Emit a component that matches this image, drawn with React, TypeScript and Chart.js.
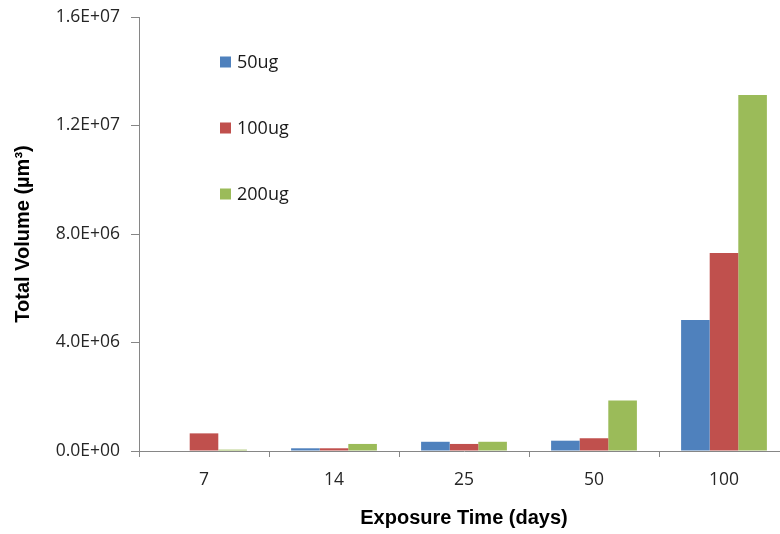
import React, { useEffect, useRef } from "react";
import { Chart, registerables } from "chart.js";

Chart.register(...registerables);

const categories = ["7", "14", "25", "50", "100"];
const seriesNames = ["50ug", "100ug", "200ug"];
const series50 = [0, 1.0e5, 3.4e5, 3.8e5, 4.83e6];
const series100 = [6.5e5, 1.0e5, 2.6e5, 4.7e5, 7.3e6];
const series200 = [5e4, 2.6e5, 3.4e5, 1.86e6, 1.312e7];
const colors = ["#4F81BD", "#C0504D", "#9BBB59"];
const yTicks = [0, 4e6, 8e6, 1.2e7, 1.6e7];

function fmtExp(v: number): string {
  if (v === 0) return "0.0E+00";
  const exp = Math.floor(Math.log10(Math.abs(v)));
  const mant = v / Math.pow(10, exp);
  const sign = exp >= 0 ? "+" : "-";
  const e = Math.abs(exp).toString().padStart(2, "0");
  return mant.toFixed(1) + "E" + sign + e;
}

const legendPlugin = {
  id: "customLegend",
  afterDraw(chart: any) {
    const { ctx, chartArea } = chart;
    ctx.save();
    const x0 = chartArea.left + 81;
    const y0 = chartArea.top + 45;
    chart.data.datasets.forEach((ds: any, i: number) => {
      const cy = y0 + i * 66;
      ctx.fillStyle = ds.backgroundColor;
      ctx.fillRect(x0, cy - 5.5, 11, 11);
      ctx.fillStyle = "#1a1a1a";
      ctx.font = "18px 'Open Sans'";
      ctx.textBaseline = "middle";
      ctx.textAlign = "left";
      ctx.fillText(ds.label, x0 + 17, cy + 1);
    });
    ctx.restore();
  },
};

export default function App() {
  const ref = useRef<HTMLCanvasElement>(null);
  useEffect(() => {
    if (!ref.current) return;
    const data = [series50, series100, series200];
    const chart = new Chart(ref.current, {
      type: "bar",
      data: {
        labels: categories,
        datasets: seriesNames.map((n, i) => ({
          label: n,
          data: data[i],
          backgroundColor: colors[i],
          borderWidth: 0,
          categoryPercentage: 0.66,
          barPercentage: 1.0,
        })),
      },
      options: {
        responsive: false,
        animation: false,
        devicePixelRatio: 1,
        layout: { padding: { top: 17, right: 3, left: 0, bottom: 0 } },
        plugins: { legend: { display: false }, tooltip: { enabled: false } },
        scales: {
          x: {
            afterFit: (s: any) => {
              s.height = 83;
              s.paddingLeft = 0;
              s.paddingRight = 0;
            },
            grid: {
              drawOnChartArea: false,
              offset: true,
              tickLength: 6,
              color: "#868686",
            },
            border: { color: "#868686", width: 1 },
            ticks: {
              color: "#262626",
              font: { family: "'Open Sans'", size: 17.5 },
              padding: 13,
            },
            title: {
              display: true,
              text: "Exposure Time (days)",
              color: "#000",
              font: { family: "'Liberation Sans'", size: 20, weight: "bold" },
              padding: { top: 0, bottom: 4 },
            },
          },
          y: {
            min: 0,
            max: 1.6e7,
            afterFit: (s: any) => {
              s.width = 139;
              s.paddingTop = 0;
              s.paddingBottom = 0;
            },
            afterBuildTicks: (s: any) => {
              s.ticks = yTicks.map((v) => ({ value: v }));
            },
            grid: {
              drawOnChartArea: false,
              tickLength: 8,
              color: "#868686",
            },
            border: { color: "#868686", width: 1 },
            ticks: {
              color: "#262626",
              font: { family: "'Open Sans'", size: 17.5 },
              padding: 11,
              callback: (v: any) => fmtExp(Number(v)),
            },
            title: {
              display: true,
              text: "Total Volume (µm³)",
              color: "#000",
              font: { family: "'Liberation Sans'", size: 20, weight: "bold" },
              padding: { top: 11, bottom: 0 },
            },
          },
        },
      },
      plugins: [legendPlugin],
    });
    return () => chart.destroy();
  }, []);
  return (
    <div
      style={{
        position: "fixed",
        left: 0,
        top: 0,
        width: 780,
        height: 534,
        overflow: "hidden",
        background: "#fff",
      }}
    >
      <canvas ref={ref} width={792} height={534} style={{ display: "block" }} />
    </div>
  );
}
